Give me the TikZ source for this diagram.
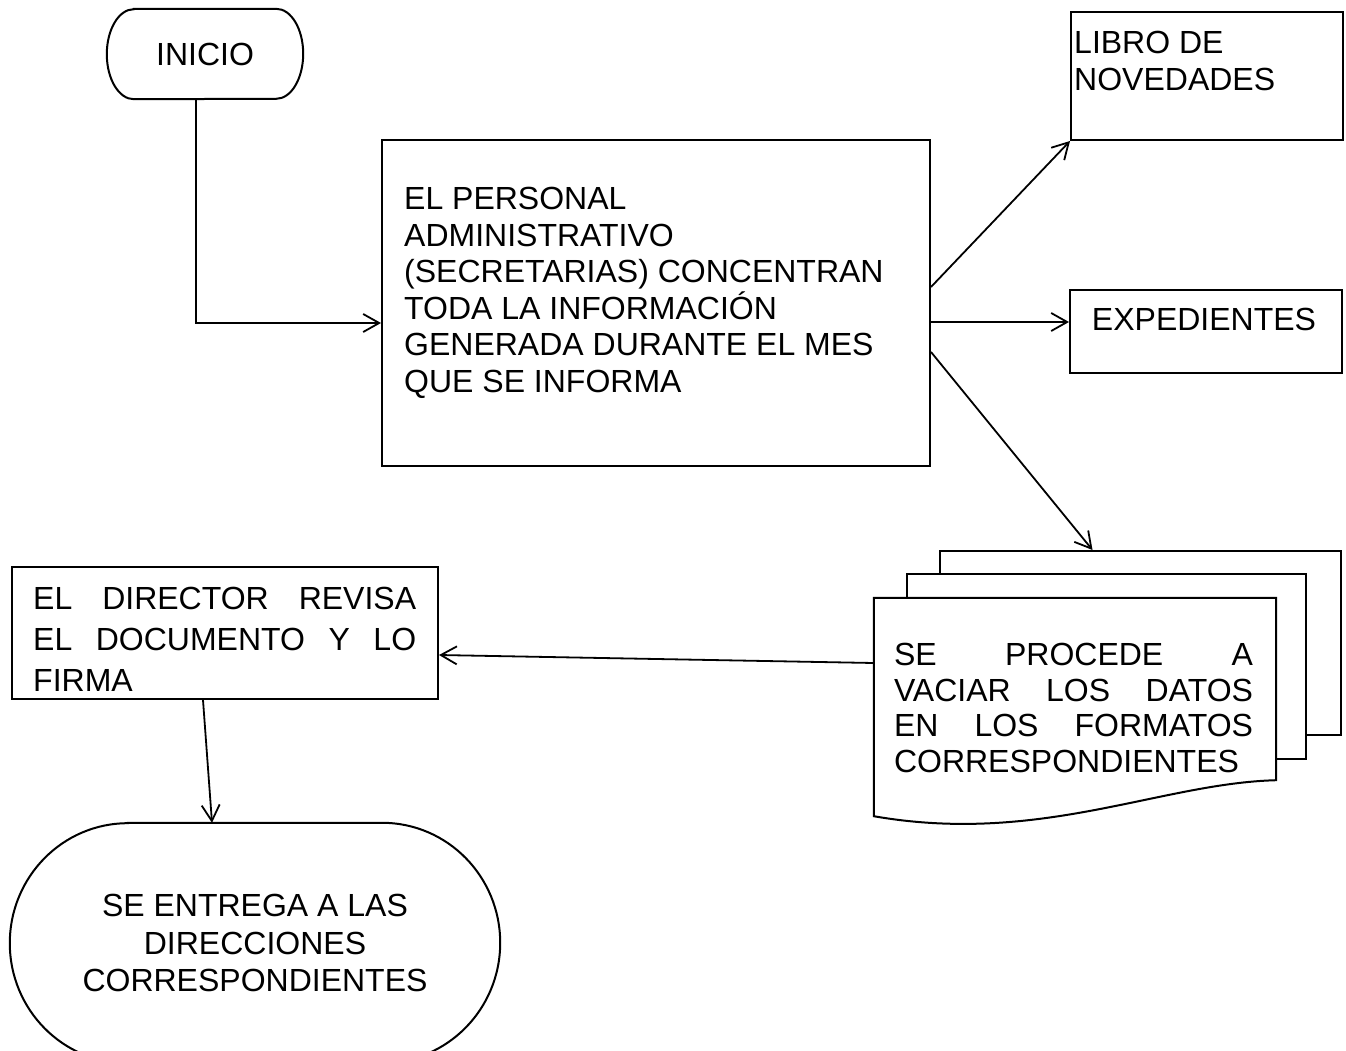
\documentclass[tikz,border=0pt]{standalone}
\usepackage{fontspec}
\setmainfont{Liberation Sans}
\usetikzlibrary{arrows.meta, positioning, calc}

\begin{document}
\begin{tikzpicture}[
    x=1pt, y=-1pt,
    box/.style={draw,line width=2pt,inner sep=0pt},
    page/.style={draw,fill=white,line width=2pt,inner sep=0pt},
    txt/.style={inner sep=0pt,align=left,font=\fontsize{32}{36.5}\selectfont},
    line/.style={line width=2pt},
    arrow/.style={-{Straight Barb[length=16pt,width=18pt]},line width=1.8pt}
]
    \useasboundingbox (0,0) rectangle (1346,1051);
    \clip (0,0) rectangle (1346,1051);

    % Start terminal (flattened ends)
    \node[txt,minimum width=196pt,minimum height=90pt] (INI) at (205,54) {INICIO};
    \draw[line] ([xshift=27pt]INI.north west) -- ([xshift=-27pt]INI.north east)
        arc[start angle=90,end angle=-90,x radius=27pt,y radius=45pt]
        -- ([xshift=27pt]INI.south west)
        arc[start angle=270,end angle=90,x radius=27pt,y radius=45pt] -- cycle;

    % Main process box, text sits above centre
    \node[box,minimum width=548pt,minimum height=326pt] (CONC) at (656,303) {};
    \node[txt,anchor=north west] (CONCtxt) at ([xshift=23pt,yshift=-48pt]CONC.north west)
        {EL PERSONAL\\ADMINISTRATIVO\\(SECRETARIAS) CONCENTRAN\\TODA LA INFORMACIÓN\\GENERADA DURANTE EL MES\\QUE SE INFORMA};

    % Output boxes on the right
    \node[box,minimum width=272pt,minimum height=128pt] (LIB) at (1207,76) {};
    \node[txt,anchor=north west,font=\fontsize{32}{37}\selectfont] (LIBtxt) at ([xshift=4pt,yshift=-20pt]LIB.north west) {LIBRO DE\\NOVEDADES};
    \node[box,minimum width=272pt,minimum height=83pt] (EXP) at (1206,331.5) {};
    \node[txt] (EXPtxt) at ([xshift=-2pt,yshift=12pt]EXP.center) {EXPEDIENTES};

    % Multi-document: two plain sheets behind, wavy one in front
    \node[page,minimum width=401pt,minimum height=184pt] (P3) at (1140.5,643) {};
    \node[page,minimum width=399pt,minimum height=185pt] (P2) at (1106.5,666.5) {};
    \node[inner sep=0pt,minimum width=402pt,minimum height=218pt] (P1) at (1075,707) {};
    \draw[line,fill=white] (P1.north west) -- (P1.north east) -- ([yshift=36pt]P1.south east)
        .. controls +(-116,3) and +(166,29) .. (P1.south west) -- cycle;
    \node[txt,anchor=north west,text width=359pt,font=\fontsize{32}{35.7}\selectfont] (P1txt) at ([xshift=20pt,yshift=-45pt]P1.north west)
        {SE \hfill PROCEDE \hfill A\\VACIAR \hfill LOS \hfill DATOS\\EN \hfill LOS \hfill FORMATOS\\CORRESPONDIENTES};

    % Director box (justified text)
    \node[box,minimum width=426pt,minimum height=132pt] (DIR) at (225,633) {};
    \node[txt,anchor=north west,text width=383pt,font=\fontsize{32}{41}\selectfont] (DIRtxt) at ([xshift=22pt,yshift=-21pt]DIR.north west)
        {EL \hfill DIRECTOR \hfill REVISA\\EL \hfill DOCUMENTO \hfill Y \hfill LO\\FIRMA};

    % End terminal, runs off the bottom edge
    \node[txt,align=center,font=\fontsize{32}{37.5}\selectfont,minimum width=490pt,minimum height=240pt] (ENT) at (255,943)
        {SE ENTREGA A LAS\\DIRECCIONES\\CORRESPONDIENTES};
    \draw[line] ([xshift=118pt]ENT.north west) -- ([xshift=-118pt]ENT.north east)
        arc[start angle=90,end angle=-90,x radius=118pt,y radius=120pt]
        -- ([xshift=118pt]ENT.south west)
        arc[start angle=270,end angle=90,x radius=118pt,y radius=120pt] -- cycle;

    % Connectors
    \draw[arrow] ([xshift=-9pt]INI.south) |- ([yshift=-20pt]CONC.west);
    \draw[arrow] ([yshift=16pt]CONC.east) -- (LIB.south west);
    \coordinate (c2) at ([yshift=-19pt]CONC.east);
    \draw[arrow] (c2) -- (c2 -| EXP.west);
    \draw[arrow] ([yshift=-49pt]CONC.east) -- ([xshift=-48pt]P3.north);
    \draw[arrow] ([yshift=44pt]P1.west) -- ([yshift=-22pt]DIR.east);
    \draw[arrow] ([xshift=-22pt]DIR.south) -- ([xshift=-43pt]ENT.north);
\end{tikzpicture}
\end{document}
